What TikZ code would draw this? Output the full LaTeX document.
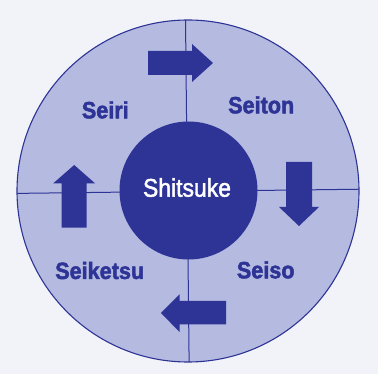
\documentclass[tikz,border=0pt]{standalone}
\usepackage{fontspec}
\newfontfamily\lblfont[FakeStretch=0.92,FakeBold=2]{Liberation Sans}
\newfontfamily\ctrfont[FakeStretch=0.9,FakeBold=1.8]{Liberation Sans}
\definecolor{bgcol}{RGB}{242,243,249}
\definecolor{ringcol}{RGB}{180,186,224}
\definecolor{darkblue}{RGB}{46,52,150}
\tikzset{
  ringlabel/.style={anchor=base, inner sep=0pt, text=darkblue,
    font=\lblfont\bfseries\fontsize{23.5}{28}\selectfont},
  centerlabel/.style={anchor=base, inner sep=0pt, text=white,
    font=\ctrfont\fontsize{25.5}{30}\selectfont},
  bigarrow/.style={fill=darkblue, draw=none},
  divider/.style={draw=darkblue, line width=1pt}
}
\begin{document}
\begin{tikzpicture}[x=1pt, y=-1pt]
  \useasboundingbox (0,0) rectangle (378,374);
  \fill[bgcol] (0,0) rectangle (378,374);
  % outer ring
  \node[circle, minimum size=342pt, inner sep=0pt, fill=ringcol, draw=darkblue, line width=1.1pt] (outer) at (188,191) {};
  % dividing lines, clipped to the ring
  \begin{scope}
    \clip (188,191) circle (171pt);
    \draw[divider] (185.3,0) -- (189.3,380);
    \draw[divider] (0,193.6) -- (378,189);
  \end{scope}
  % inner circle
  \node[circle, minimum size=138pt, inner sep=0pt, fill=darkblue] (inner) at (188.5,190.5) {};
  \node[centerlabel] (shitsuke) at (187,196.7) {Shitsuke};
  % labels
  \node[ringlabel] (seiri) at (105.3,118.3) {Seiri};
  \node[ringlabel] (seiton) at (261.2,113.3) {Seiton};
  \node[ringlabel] (seiso) at (265.7,278.3) {Seiso};
  \node[ringlabel] (seiketsu) at (99.7,279) {Seiketsu};
  % arrows
  \fill[bigarrow] (148,51) -- (192,51) -- (192,44) -- (213,63) -- (192,82) -- (192,75) -- (148,75) -- cycle;
  \fill[bigarrow] (286,162) -- (312,162) -- (312,207) -- (319,207) -- (299,226) -- (279,207) -- (286,207) -- cycle;
  \fill[bigarrow] (226,301) -- (226,324.5) -- (179.5,324.5) -- (179.5,332) -- (161,313) -- (179.5,294.3) -- (179.5,301) -- cycle;
  \fill[bigarrow] (61.7,227.7) -- (86.7,227.7) -- (86.7,183.3) -- (95,183.3) -- (74.2,165) -- (53.3,183.3) -- (61.7,183.3) -- cycle;
\end{tikzpicture}
\end{document}
